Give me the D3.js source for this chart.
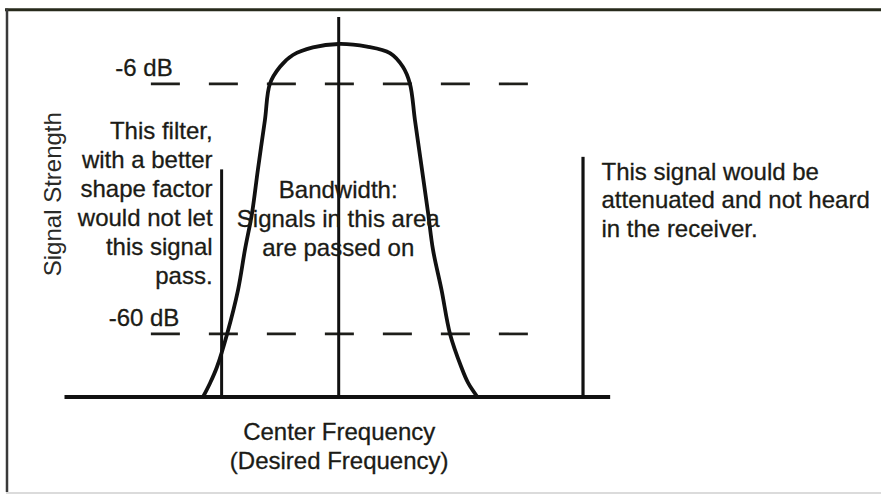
<!DOCTYPE html>
<html>
<head>
<meta charset="utf-8">
<script src="https://cdn.jsdelivr.net/npm/d3@7"></script>
<style>
  html, body { margin: 0; padding: 0; background: #fff; }
  svg { display: block; }
  text { font-family: "Liberation Sans", Arial, Helvetica, sans-serif; font-size: 24px; fill: #1b1b16;
         stroke: #1b1b16; stroke-width: 0.3px; }
</style>
</head>
<body>
<svg id="chart"></svg>
<script>
// filter passband: offset from centre frequency (arbitrary units) vs relative level (0 = baseline)
const curveFreq  = [-4.95, -4.69, -4.44, -4.07, -3.67, -3.42, -3.16, -2.95, -2.69, -2.51, -2.14, -1.67, -0.94, 0,
                    1.03, 1.87, 2.34, 2.60, 2.78, 3.04, 3.26, 3.44, 3.75, 4.06, 4.47, 4.72, 5.06];
const curveLevel = [0, 3.7, 7.9, 16.6, 28.2, 38.7, 48.4, 59.7, 72.9, 82.4, 86.9, 90.0, 92.0, 92.9,
                    92.2, 90.5, 86.9, 82.4, 72.9, 59.7, 48.4, 38.7, 28.2, 16.6, 7.9, 3.7, 0];

// reference levels
const dbLabels = ["-6 dB", "-60 dB"];
const dbLevels = [82.4, 16.6];
const dbExtent = [-6.85, 6.9];
const dbLabelFreq = -7.1;

// vertical signal markers
const signalFreq  = [0, -4.27, 8.91];
const signalLevel = [100, 59.9, 63.2];

const baseExtent = [-10, 9.9];

const noteLeft  = ["This filter,", "with a better", "shape factor", "would not let", "this signal", "pass."];
const noteBand  = ["Bandwidth:", "Signals in this area", "are passed on"];
const noteRight = ["This signal would be", "attenuated and not heard", "in the receiver."];
const xLabel    = ["Center Frequency", "(Desired Frequency)"];
const yLabel    = "Signal Strength";

const width = 881, height = 494;
const svg = d3.select("#chart").attr("width", width).attr("height", height);

const x = d3.scaleLinear().domain([-10, 10]).range([64.5, 612.9]);
const y = d3.scaleLinear().domain([0, 100]).range([397, 17]);

// frame (right edge falls outside the picture)
svg.append("line").attr("x1", 5).attr("x2", width).attr("y1", 9.7).attr("y2", 9.7)
    .attr("stroke", "#272a1b").attr("stroke-width", 3);
svg.append("line").attr("x1", 7).attr("x2", 7).attr("y1", 8.5).attr("y2", 492)
    .attr("stroke", "#3a3a3a").attr("stroke-width", 2.5);
svg.append("line").attr("x1", 6).attr("x2", width).attr("y1", 493).attr("y2", 493)
    .attr("stroke", "#cfcfcf").attr("stroke-width", 1.5);

// dashed reference levels
const db = dbLabels.map((label, i) => ({ label, level: dbLevels[i] }));
svg.append("g").selectAll("line").data(db).enter().append("line")
    .attr("x1", x(dbExtent[0])).attr("x2", x(dbExtent[1]))
    .attr("y1", d => y(d.level)).attr("y2", d => y(d.level))
    .attr("stroke", "#1e1e1a").attr("stroke-width", 2.7)
    .attr("stroke-dasharray", "29 29");
svg.append("g").selectAll("text").data(db).enter().append("text")
    .attr("x", x(dbLabelFreq)).attr("y", d => y(d.level) - 8)
    .attr("text-anchor", "middle")
    .text(d => d.label);

// baseline
svg.append("line")
    .attr("x1", x(baseExtent[0])).attr("x2", x(baseExtent[1]))
    .attr("y1", y(0)).attr("y2", y(0))
    .attr("stroke", "#111").attr("stroke-width", 3.8);

// signals
const signals = signalFreq.map((f, i) => ({ f, level: signalLevel[i] }));
svg.append("g").selectAll("line").data(signals).enter().append("line")
    .attr("x1", d => x(d.f)).attr("x2", d => x(d.f))
    .attr("y1", y(0)).attr("y2", d => y(d.level))
    .attr("stroke", "#111").attr("stroke-width", (d, i) => i === 2 ? 3.2 : 3);

// filter response
const pts = curveFreq.map((f, i) => [f, curveLevel[i]]);
const line = d3.line()
    .x(d => x(d[0]))
    .y(d => y(d[1]))
    .curve(d3.curveCatmullRom.alpha(0.5));
svg.append("path").datum(pts)
    .attr("d", line)
    .attr("fill", "none")
    .attr("stroke", "#111")
    .attr("stroke-width", 3.8);

// notes
function block(lines, xPos, y0, step, anchor) {
    svg.append("g").selectAll("text").data(lines).enter().append("text")
        .attr("x", xPos).attr("y", (d, i) => y0 + i * step)
        .attr("text-anchor", anchor)
        .text(d => d);
}
block(noteLeft, x(signalFreq[1]) - 9, 139.3, 29, "end");
block(noteBand, x(0) - 0.5, 198.3, 29, "middle");
block(noteRight, x(signalFreq[2]) + 18.5, 179.5, 28.5, "start");
block(xLabel, x(0) + 0.5, 440, 29, "middle");

svg.append("text")
    .attr("transform", "translate(60.7,194.2) rotate(-90)")
    .attr("text-anchor", "middle")
    .style("fill", "#2a2a26")
    .style("stroke", "none")
    .text(yLabel);
</script>
</body>
</html>
